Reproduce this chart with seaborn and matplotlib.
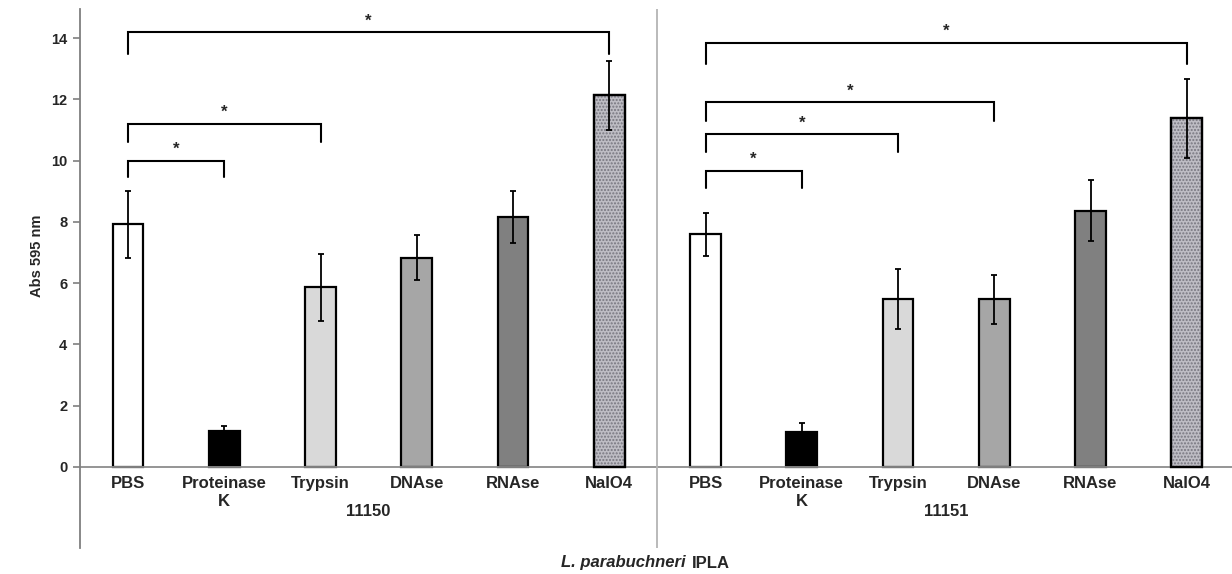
import matplotlib
matplotlib.use('Agg')
import matplotlib.pyplot as plt
from matplotlib.patches import Rectangle
import seaborn as sns
import pandas as pd
import numpy as np

strains = ['11150', '11151']
treatments = ['PBS', 'Proteinase\nK', 'Trypsin', 'DNAse', 'RNAse', 'NaIO4']
means_11150 = [7.92, 1.18, 5.86, 6.83, 8.16, 12.13]
sd_11150 = [1.10, 0.17, 1.09, 0.74, 0.85, 1.13]
means_11151 = [7.59, 1.14, 5.49, 5.48, 8.36, 11.38]
sd_11151 = [0.69, 0.28, 0.98, 0.80, 1.00, 1.28]
fills = ['#ffffff', '#000000', '#d9d9d9', '#a6a6a6', '#808080', '#bebdc4']

# significance brackets: (from index, to index, height, leg length)
brackets = [(0, 1, 9.99, 0.54), (0, 2, 11.21, 0.60), (0, 5, 14.19, 0.70),
            (6, 7, 9.67, 0.56), (6, 8, 10.87, 0.58), (6, 9, 11.90, 0.60), (6, 11, 13.85, 0.70)]

df = pd.DataFrame({
    'strain': np.repeat(strains, len(treatments)),
    'treatment': treatments * 2,
    'mean': means_11150 + means_11151,
    'sd': sd_11150 + sd_11151,
})
df['key'] = df['strain'] + ' ' + df['treatment']
palette = dict(zip(df['key'], fills * 2))

sns.set_style('white')
plt.rcParams['font.family'] = ['Liberation Sans', 'DejaVu Sans']

fig = plt.figure(figsize=(12.32, 5.74), dpi=100)
ax = fig.add_axes([79.9 / 1232, 26 / 574, 1155 / 1232, 539 / 574])

sns.barplot(data=df, x='key', y='mean', hue='key', palette=palette, order=list(df['key']),
            width=0.32, saturation=1, edgecolor='black', linewidth=1.6, legend=False, ax=ax)
xs = np.arange(len(df))
ax.errorbar(xs, df['mean'], yerr=df['sd'], fmt='none', ecolor='black', elinewidth=1.3,
            capsize=2.2, capthick=1.3, zorder=5)

# speckled fill for NaIO4
for i in df.index[df['treatment'] == 'NaIO4']:
    p = ax.patches[i]
    ax.add_patch(Rectangle((p.get_x(), 0), p.get_width(), p.get_height(), fill=False,
                           hatch='.....', edgecolor='#77767f', linewidth=0, zorder=3))
    ax.add_patch(Rectangle((p.get_x(), 0), p.get_width(), p.get_height(), fill=False,
                           edgecolor='black', linewidth=1.6, zorder=4))

for a, b, h, leg in brackets:
    ax.plot([a, a, b, b], [h - leg, h, h, h - leg], color='black', lw=1.5, solid_joinstyle='miter')
    ax.text((a + b) / 2, h + 0.12, '*', ha='center', va='bottom', fontsize=12, fontweight='bold')

ax.axhline(0, color='#8c8c8c', lw=1.3)
ax.axvline(5.5, color='#b4b4b4', lw=1.3)

ax.set_xlim(-0.5, 11.5)
ax.set_ylim(-2.65, 14.95)
ax.set_xticks([])
ax.set_yticks(np.arange(0, 15, 2))
ax.set_yticklabels([str(v) for v in range(0, 15, 2)], fontweight='bold')
ax.tick_params(axis='y', direction='out', length=5, width=1.2, color='#7f7f7f', labelsize=10.5, pad=4, left=True)
ax.set_xlabel('')
ax.set_ylabel('')
for s in ['top', 'right', 'bottom']:
    ax.spines[s].set_visible(False)
ax.spines['left'].set_color('#7f7f7f')
ax.spines['left'].set_linewidth(1.3)

for i, t in enumerate(df['treatment']):
    ax.text(i, -0.3, t, ha='center', va='top', fontsize=12, fontweight='bold', linespacing=1.25)
for j, s in enumerate(strains):
    ax.text(j * 6 + 2.5, -1.46, s, ha='center', va='center', fontsize=12, fontweight='bold')

fig.text(37 / 1232, 1 - 256 / 574, 'Abs 595 nm', rotation=90, ha='center', va='center',
         fontsize=10.5, fontweight='bold')
fig.text(686 / 1232, 1 - 563 / 574, 'L. parabuchneri', ha='right', va='center',
         fontsize=12, fontweight='bold', style='italic')
fig.text(692 / 1232, 1 - 563 / 574, 'IPLA', ha='left', va='center', fontsize=12, fontweight='bold')

fig.savefig('out.png', dpi=100)
